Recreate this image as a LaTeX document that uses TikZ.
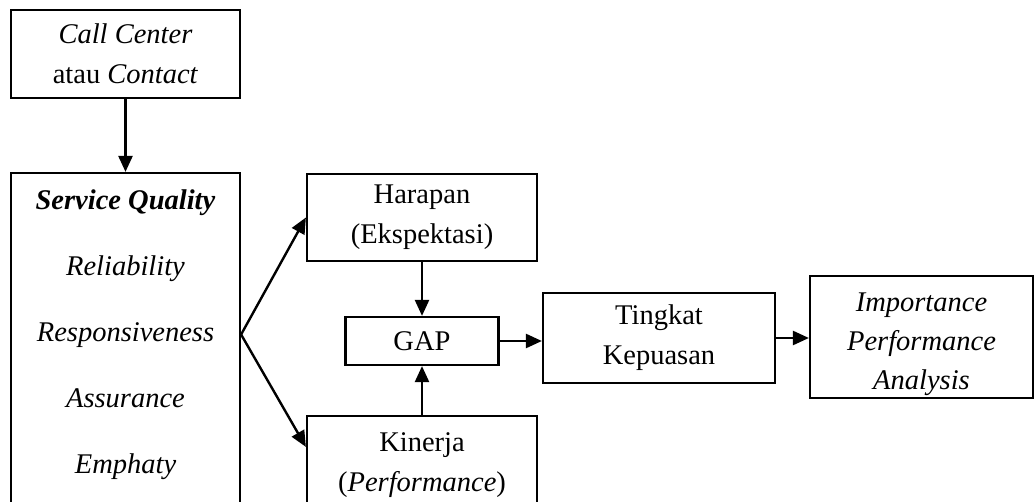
\documentclass[tikz,border=0pt]{standalone}
\usepackage{fontspec}
\setmainfont{Liberation Serif}
\usetikzlibrary{positioning,arrows.meta}
\tikzstyle{diagram} = [x = 1pt, y = -1pt, every node/.style={font=\fontsize{28.5}{40}\selectfont, align=center}]
\tikzstyle{boxStyle} = [draw, line width=2.2pt, inner sep=0pt]
\tikzstyle{arrowStyle} = [line width=2.4pt, -{Triangle[length=16pt,width=14pt]}]
\newcommand{\boxNode}[6]{\node [boxStyle, minimum width=#4pt, minimum height=#5pt] (#1) at (#2,#3) {#6};}

\begin{document}
\begin{tikzpicture}[diagram]
  \useasboundingbox (0,0) rectangle (1035,502);
  % boxes
  \boxNode{callBox}{125.5}{54}{229}{88}{\textit{Call Center}\\atau \textit{Contact}}
  \boxNode{serviceBox}{125.5}{346.5}{229}{347}{}
  \boxNode{harapanBox}{422}{217.5}{230}{87}{Harapan\\(Ekspektasi)}
  \boxNode{gapBox}{422}{341}{153}{48}{GAP}
  \boxNode{kinerjaBox}{422}{468}{230}{104}{}
  \boxNode{tingkatBox}{659}{338}{232}{90}{Tingkat\\Kepuasan}
  \boxNode{ipaBox}{921.5}{337}{223}{122}{}
  % texts
  \node [font=\fontsize{28.5}{66}\selectfont] (serviceText) at (125.5,334.5)
    {\textbf{\textit{Service Quality}}\\\textit{Reliability}\\\textit{Responsiveness}\\\textit{Assurance}\\\textit{Emphaty}};
  \node (kinerjaText) at (422,465) {Kinerja\\(\textit{Performance})};
  \node [font=\fontsize{28.5}{39}\selectfont] (ipaText) at (921.5,344)
    {\textit{Importance}\\\textit{Performance}\\\textit{Analysis}};
  % arrows
  \coordinate (fanPoint) at (serviceBox.east |- serviceText);
  \draw [arrowStyle] (callBox) -- (serviceBox);
  \draw [arrowStyle] (fanPoint) -- (harapanBox.west);
  \draw [arrowStyle] (fanPoint) -- ([yshift=-32pt]kinerjaBox.north west);
  \draw [arrowStyle] (harapanBox) -- (gapBox);
  \draw [arrowStyle] (kinerjaBox) -- (gapBox);
  \draw [arrowStyle] (gapBox.east) -- (gapBox.east -| tingkatBox.west);
  \draw [arrowStyle] (tingkatBox.east) -- (tingkatBox.east -| ipaBox.west);
\end{tikzpicture}
\end{document}
